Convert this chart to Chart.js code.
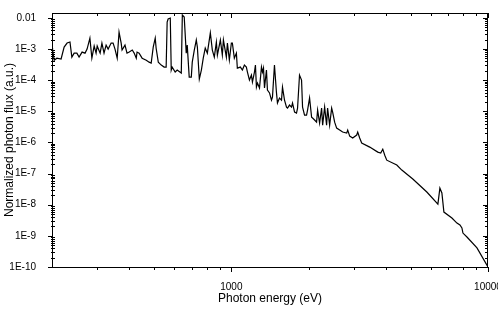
<!DOCTYPE html>
<html lang="en">
<head>
  <meta charset="UTF-8">
  <title>Photon flux spectrum</title>
  <script src="https://cdn.jsdelivr.net/npm/chart.js"></script>
  <style>
    body {
      margin: 0;
      padding: 0;
      background: #fff;
    }
    canvas {
      display: block;
    }
  </style>
</head>
<body>
  <canvas id="spectrum" width="498" height="311"></canvas>

  <script>
    // photon energy (eV) and normalized flux
    const energy = [
      200, 201, 204, 209, 217, 223, 229, 235, 239, 244, 250, 255, 262, 269, 274, 281, 286, 292, 297, 300,
      308, 313, 319, 325, 331, 340, 346, 352, 359, 365, 372, 375, 385, 392, 400, 411, 418, 426, 429, 437,
      449, 466, 478, 487, 496, 505, 509, 519, 533, 547, 557, 562, 567, 578, 583, 588, 604, 615, 638, 644,
      655, 667, 673, 685, 698, 704, 717, 730, 737, 750, 764, 777, 791, 806, 828, 843, 858, 874, 882, 906,
      922, 931, 956, 965, 982, 1000, 1009, 1027, 1046, 1055, 1084, 1104, 1124, 1144, 1155, 1176, 1197, 1208, 1230, 1241,
      1252, 1264, 1287, 1310, 1322, 1334, 1346, 1370, 1382, 1408, 1433, 1446, 1472, 1499, 1512, 1540, 1568, 1582, 1611, 1640,
      1655, 1685, 1715, 1731, 1763, 1794, 1811, 1843, 1877, 1894, 1928, 1963, 1981, 2017, 2054, 2072, 2110, 2148, 2168, 2207,
      2247, 2268, 2309, 2350, 2371, 2415, 2459, 2481, 2526, 2572, 2642, 2714, 2814, 2840, 2891, 2970, 3079, 3107, 3162, 3220,
      3460, 3719, 3819, 3890, 3960, 4032, 4412, 4614, 5093, 5776, 6379, 6494, 6612, 6732, 7234, 7568, 7774, 7914, 7986, 8279,
      9058, 10000
    ];
    const flux = [
      1.08e-3, 9.3e-4, 4.4e-4, 5.1e-4, 4.8e-4, 1.16e-3, 1.56e-3, 1.68e-3, 5.5e-4, 7.4e-4, 7.4e-4, 5.5e-4, 8.0e-4, 7.4e-4, 1.0e-3, 2.25e-3, 5.1e-4, 1.25e-3, 7.4e-4, 1.25e-3,
      7.4e-4, 1.56e-3, 7.4e-4, 1.34e-3, 1.0e-3, 1.56e-3, 1.56e-3, 1.0e-3, 5.1e-4, 3.5e-3, 1.56e-3, 9.3e-4, 1.34e-3, 7.4e-4, 8.0e-4, 9.3e-4, 7.4e-4, 5.1e-4, 8.0e-4, 7.4e-4,
      5.1e-4, 4.4e-4, 3.8e-4, 3.55e-4, 1.16e-3, 2.25e-3, 1.08e-3, 3.8e-4, 3.06e-4, 2.64e-4, 2.64e-4, 7.4e-3, 9.2e-3, 9.9e-3, 2.12e-4, 2.64e-4, 1.83e-4, 2.12e-4, 1.7e-4, 1.24e-2,
      1.07e-2, 7.4e-4, 1.34e-3, 1.26e-4, 1.26e-4, 3.8e-4, 9.3e-4, 1.95e-3, 1.16e-3, 1.09e-4, 2.12e-4, 5.1e-4, 1.08e-3, 7.4e-4, 3.3e-3, 9.3e-4, 5.5e-4, 1.68e-3, 6.4e-4, 1.95e-3,
      6.4e-4, 1.95e-3, 5.5e-4, 1.56e-3, 4.4e-4, 1.56e-3, 1.56e-3, 5.1e-4, 7.4e-4, 2.45e-4, 2.64e-4, 2.12e-4, 3.06e-4, 2.64e-4, 1.83e-4, 1.01e-4, 1.46e-4, 8.7e-5, 1.83e-4, 3.06e-4,
      6.0e-5, 8.1e-5, 5.6e-5, 2.64e-4, 1.83e-4, 2.45e-4, 5.6e-5, 2.12e-4, 4.8e-5, 3.9e-5, 2.3e-5, 2.88e-5, 3.06e-4, 3.9e-5, 1.85e-5, 2.67e-5, 2.3e-5, 6.0e-5, 2.3e-5, 1.37e-5,
      1.27e-5, 1.59e-5, 1.37e-5, 1.85e-5, 9.5e-6, 8.8e-6, 1.27e-5, 1.46e-4, 1.01e-4, 1.37e-5, 7.6e-6, 7.6e-6, 1.1e-5, 2.67e-5, 6.5e-6, 6.1e-6, 5.25e-6, 4.5e-6, 1.1e-5, 4.2e-6,
      1.27e-5, 3.6e-6, 1.37e-5, 3.6e-6, 1.27e-5, 3.6e-6, 1.27e-5, 9.5e-6, 4.5e-6, 2.9e-6, 2.5e-6, 2.16e-6, 2.0e-6, 2.5e-6, 1.6e-6, 1.39e-6, 1.73e-6, 2.16e-6, 1.39e-6, 9.6e-7,
      7.1e-7, 4.9e-7, 4.6e-7, 6.1e-7, 3.9e-7, 2.7e-7, 1.88e-7, 1.3e-7, 6.7e-8, 2.56e-8, 1.05e-8, 3.4e-8, 2.38e-8, 5.8e-9, 3.74e-9, 2.58e-9, 2.23e-9, 1.79e-9, 1.23e-9, 9.2e-10,
      4.1e-10, 1e-10
    ];

    // axis ticks
    const xMajor = [1000, 10000];
    const xMinor = [300, 400, 500, 600, 700, 800, 900, 2000, 3000, 4000, 5000, 6000, 7000, 8000, 9000];
    const yMajor = [1e-10, 1e-9, 1e-8, 1e-7, 1e-6, 1e-5, 1e-4, 1e-3, 1e-2];
    const xMin = 200, xMax = 10000;
    const yMin = 1e-10, yMax = 0.0144;

    function yMinorTicks() {
      const out = [];
      for (let e = -10; e <= -2; e++) {
        for (let m = 2; m <= 9; m++) {
          const v = m * Math.pow(10, e);
          if (v < yMax) out.push(v);
        }
      }
      return out;
    }

    // frame + tick marks, placed with the chart's own scales
    const frameTicks = {
      id: 'frameTicks',
      afterDraw(chart) {
        const { ctx, chartArea: a, scales } = chart;
        const xs = scales.x, ys = scales.y;
        ctx.save();
        ctx.strokeStyle = '#000';
        ctx.lineWidth = 1;
        ctx.strokeRect(a.left + 0.5, a.top + 0.5, a.right - a.left - 1, a.bottom - a.top);

        ctx.beginPath();
        const vx = (v, major) => {
          const px = Math.round(xs.getPixelForValue(v)) + 0.5;
          ctx.moveTo(px, a.bottom); ctx.lineTo(px, a.bottom + (major ? 5 : 3));
          ctx.moveTo(px, a.top); ctx.lineTo(px, a.top + (major ? 5 : 3));
        };
        xMajor.forEach(v => vx(v, true));
        xMinor.forEach(v => vx(v, false));

        const hy = (v, major) => {
          const py = Math.round(ys.getPixelForValue(v)) + 0.5;
          if (major) {
            ctx.moveTo(a.left - 4, py); ctx.lineTo(a.left + 1, py);
            ctx.moveTo(a.right, py); ctx.lineTo(a.right - 5, py);
          } else {
            ctx.moveTo(a.left - 1, py); ctx.lineTo(a.left + 3, py);
            ctx.moveTo(a.right, py); ctx.lineTo(a.right - 3, py);
          }
        };
        yMajor.forEach(v => hy(v, true));
        yMinorTicks().forEach(v => hy(v, false));
        ctx.stroke();
        ctx.restore();
      }
    };

    const ctx = document.getElementById('spectrum').getContext('2d');

    new Chart(ctx, {
      type: 'line',
      data: {
        datasets: [{
          data: energy.map((e, i) => ({ x: e, y: flux[i] })),
          borderColor: '#000',
          borderWidth: 1.2,
          pointRadius: 0,
          tension: 0,
          fill: false
        }]
      },
      options: {
        responsive: false,
        animation: false,
        events: [],
        layout: { padding: { top: 13, right: 10, left: 0, bottom: 0 } },
        plugins: {
          legend: { display: false },
          tooltip: { enabled: false }
        },
        scales: {
          x: {
            type: 'logarithmic',
            position: 'bottom',
            min: xMin,
            max: xMax,
            afterBuildTicks: (s) => { s.ticks = xMajor.map(v => ({ value: v })); },
            afterFit: (s) => { s.height = 44; s.paddingLeft = 0; s.paddingRight = 0; },
            grid: { display: false },
            border: { display: false },
            ticks: {
              color: '#000',
              font: { family: 'Arial, "Liberation Sans", sans-serif', size: 10 },
              padding: 6,
              maxRotation: 0,
              autoSkip: false,
              callback: (v) => String(v)
            },
            title: {
              display: true,
              text: 'Photon energy (eV)',
              color: '#000',
              font: { family: 'Arial, "Liberation Sans", sans-serif', size: 12 },
              padding: { top: 0, bottom: 5 }
            }
          },
          y: {
            type: 'logarithmic',
            position: 'left',
            min: yMin,
            max: yMax,
            afterBuildTicks: (s) => { s.ticks = yMajor.map(v => ({ value: v })); },
            afterFit: (s) => { s.width = 52; s.paddingTop = 0; s.paddingBottom = 0; },
            grid: { display: false },
            border: { display: false },
            ticks: {
              color: '#000',
              font: { family: 'Arial, "Liberation Sans", sans-serif', size: 10 },
              padding: 8,
              autoSkip: false,
              callback: (v) => {
                const e = Math.round(Math.log10(v));
                return e === -2 ? '0.01' : '1E' + e;
              }
            },
            title: {
              display: true,
              text: 'Normalized photon flux (a.u.)',
              color: '#000',
              font: { family: 'Arial, "Liberation Sans", sans-serif', size: 12 },
              padding: { top: 2, bottom: 0 }
            }
          }
        }
      },
      plugins: [frameTicks]
    });
  </script>
</body>
</html>
